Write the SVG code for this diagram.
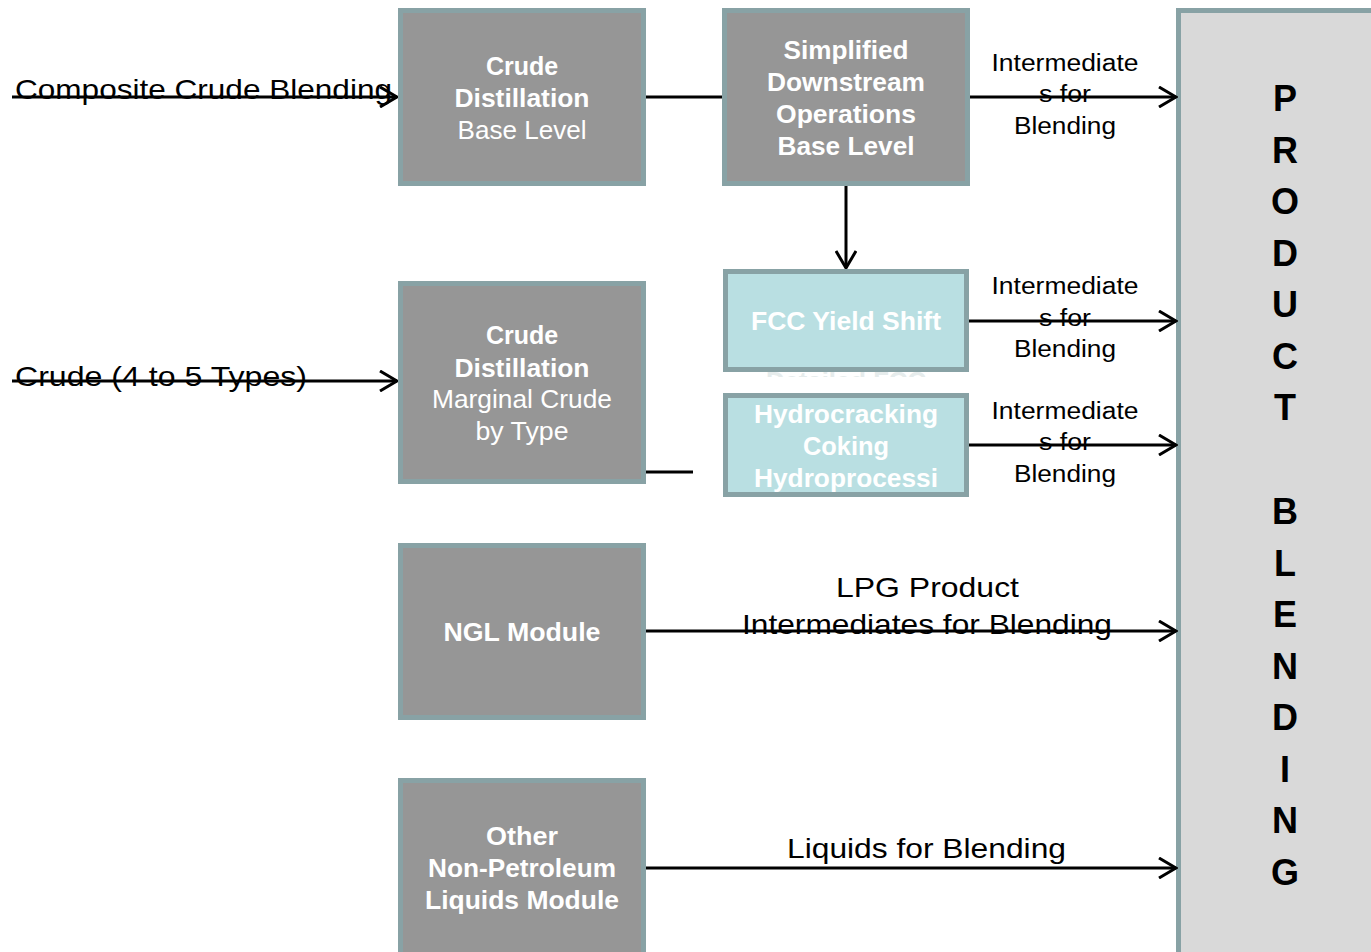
<svg xmlns="http://www.w3.org/2000/svg" width="1371" height="952" viewBox="0 0 1371 952">
<style>
.box{fill:#969696;stroke:#88a2a5;stroke-width:5}
.tbox{fill:#b9dfe2;stroke:#88a2a5;stroke-width:5}
.pbox{fill:#d9d9d9;stroke:#88a2a5;stroke-width:5}
.wb{font-family:"Liberation Sans",Arial,sans-serif;font-weight:bold;font-size:25px;fill:#fff;text-anchor:middle}
.wr{font-family:"Liberation Sans",Arial,sans-serif;font-size:25px;fill:#fff;text-anchor:middle}
.lbl{font-family:"Liberation Sans",Arial,sans-serif;font-size:28px;fill:#000}
.sm{font-family:"Liberation Sans",Arial,sans-serif;font-size:23px;fill:#000;text-anchor:middle}
.big{font-family:"Liberation Sans",Arial,sans-serif;font-weight:bold;font-size:36px;fill:#000;text-anchor:middle}
.ln{stroke:#000;stroke-width:3;fill:none}
</style>
<defs>
<marker id="arr" viewBox="0 0 20 22" refX="18" refY="11" markerWidth="20" markerHeight="22" markerUnits="userSpaceOnUse" orient="auto">
<path d="M1,1 L18,11 L1,21" fill="none" stroke="#000" stroke-width="3"/>
</marker>
<clipPath id="clipDet"><rect x="720" y="368" width="260" height="9"/></clipPath>
</defs>
<rect width="1371" height="952" fill="#fff"/>

<g id="product-blending">
<rect class="pbox" x="1178.5" y="10.5" width="260" height="1000"/>
<text class="big" x="1285" y="111">P</text>
<text class="big" x="1285" y="162.5">R</text>
<text class="big" x="1285" y="214">O</text>
<text class="big" x="1285" y="265.5">D</text>
<text class="big" x="1285" y="317">U</text>
<text class="big" x="1285" y="368.5">C</text>
<text class="big" x="1285" y="420">T</text>
<text class="big" x="1285" y="524">B</text>
<text class="big" x="1285" y="575.5">L</text>
<text class="big" x="1285" y="627">E</text>
<text class="big" x="1285" y="678.5">N</text>
<text class="big" x="1285" y="730">D</text>
<text class="big" x="1285" y="781.5">I</text>
<text class="big" x="1285" y="833">N</text>
<text class="big" x="1285" y="884.5">G</text>
</g>

<g id="connectors">
<line class="ln" x1="12" y1="97" x2="397" y2="97" marker-end="url(#arr)"/>
<line class="ln" x1="12" y1="381" x2="397" y2="381" marker-end="url(#arr)"/>
<line class="ln" x1="646" y1="97" x2="724" y2="97"/>
<line class="ln" x1="846" y1="186" x2="846" y2="268" marker-end="url(#arr)"/>
<line class="ln" x1="970" y1="97" x2="1176" y2="97" marker-end="url(#arr)"/>
<line class="ln" x1="969" y1="321" x2="1176" y2="321" marker-end="url(#arr)"/>
<line class="ln" x1="967" y1="445" x2="1176" y2="445" marker-end="url(#arr)"/>
<line class="ln" x1="639" y1="472" x2="693" y2="472"/>
<line class="ln" x1="646" y1="631" x2="1176" y2="631" marker-end="url(#arr)"/>
<line class="ln" x1="646" y1="868" x2="1176" y2="868" marker-end="url(#arr)"/>
</g>

<g id="edge-labels">
<text class="lbl" x="15" y="99" textLength="377" lengthAdjust="spacingAndGlyphs">Composite Crude Blending</text>
<text class="lbl" x="15" y="386" textLength="292" lengthAdjust="spacingAndGlyphs">Crude (4 to 5 Types)</text>
<text class="sm" x="1065" y="71" textLength="147" lengthAdjust="spacingAndGlyphs">Intermediate</text>
<text class="sm" x="1065" y="102" textLength="52" lengthAdjust="spacingAndGlyphs">s for</text>
<text class="sm" x="1065" y="134" textLength="102" lengthAdjust="spacingAndGlyphs">Blending</text>
<text class="sm" x="1065" y="294" textLength="147" lengthAdjust="spacingAndGlyphs">Intermediate</text>
<text class="sm" x="1065" y="326" textLength="52" lengthAdjust="spacingAndGlyphs">s for</text>
<text class="sm" x="1065" y="357" textLength="102" lengthAdjust="spacingAndGlyphs">Blending</text>
<text class="sm" x="1065" y="419" textLength="147" lengthAdjust="spacingAndGlyphs">Intermediate</text>
<text class="sm" x="1065" y="450" textLength="52" lengthAdjust="spacingAndGlyphs">s for</text>
<text class="sm" x="1065" y="482" textLength="102" lengthAdjust="spacingAndGlyphs">Blending</text>
<text class="lbl" x="836" y="597" textLength="183" lengthAdjust="spacingAndGlyphs">LPG Product</text>
<text class="lbl" x="742" y="634" textLength="370" lengthAdjust="spacingAndGlyphs">Intermediates for Blending</text>
<text class="lbl" x="787" y="858" textLength="279" lengthAdjust="spacingAndGlyphs">Liquids for Blending</text>
</g>

<g id="crude-distillation-base">
<rect class="box" x="400.5" y="10.5" width="243" height="173"/>
<text class="wb" x="522" y="75">Crude</text>
<text class="wb" x="522" y="107" textLength="135" lengthAdjust="spacingAndGlyphs">Distillation</text>
<text class="wr" x="522" y="139" textLength="129" lengthAdjust="spacingAndGlyphs">Base Level</text>
</g>

<g id="simplified-downstream">
<rect class="box" x="724.5" y="10.5" width="243" height="173"/>
<text class="wb" x="846" y="59" textLength="125" lengthAdjust="spacingAndGlyphs">Simplified</text>
<text class="wb" x="846" y="91" textLength="158" lengthAdjust="spacingAndGlyphs">Downstream</text>
<text class="wb" x="846" y="123" textLength="140" lengthAdjust="spacingAndGlyphs">Operations</text>
<text class="wb" x="846" y="155" textLength="137" lengthAdjust="spacingAndGlyphs">Base Level</text>
</g>

<g id="detailed-fcc-overflow">
<text class="wb" x="846" y="390" clip-path="url(#clipDet)" style="fill:#e6ecec" textLength="160" lengthAdjust="spacingAndGlyphs">Detailed FCC</text>
</g>

<g id="fcc-yield-shift">
<rect class="tbox" x="725.5" y="271.5" width="241" height="98"/>
<text class="wb" x="846" y="330" textLength="190" lengthAdjust="spacingAndGlyphs">FCC Yield Shift</text>
</g>

<g id="hydrocracking">
<rect class="tbox" x="725.5" y="395.5" width="241" height="99"/>
<text class="wb" x="846" y="423" textLength="184" lengthAdjust="spacingAndGlyphs">Hydrocracking</text>
<text class="wb" x="846" y="455" textLength="86" lengthAdjust="spacingAndGlyphs">Coking</text>
<text class="wb" x="846" y="487" textLength="184" lengthAdjust="spacingAndGlyphs">Hydroprocessi</text>
</g>

<g id="crude-distillation-marginal">
<rect class="box" x="400.5" y="283.5" width="243" height="198"/>
<text class="wb" x="522" y="344">Crude</text>
<text class="wb" x="522" y="377" textLength="135" lengthAdjust="spacingAndGlyphs">Distillation</text>
<text class="wr" x="522" y="408" textLength="180" lengthAdjust="spacingAndGlyphs">Marginal Crude</text>
<text class="wr" x="522" y="440" textLength="93" lengthAdjust="spacingAndGlyphs">by Type</text>
</g>

<g id="ngl-module">
<rect class="box" x="400.5" y="545.5" width="243" height="172"/>
<text class="wb" x="522" y="641" textLength="157" lengthAdjust="spacingAndGlyphs">NGL Module</text>
</g>

<g id="other-liquids-module">
<rect class="box" x="400.5" y="780.5" width="243" height="190"/>
<text class="wb" x="522" y="845" textLength="72" lengthAdjust="spacingAndGlyphs">Other</text>
<text class="wb" x="522" y="877" textLength="188" lengthAdjust="spacingAndGlyphs">Non-Petroleum</text>
<text class="wb" x="522" y="909" textLength="194" lengthAdjust="spacingAndGlyphs">Liquids Module</text>
</g>
</svg>
